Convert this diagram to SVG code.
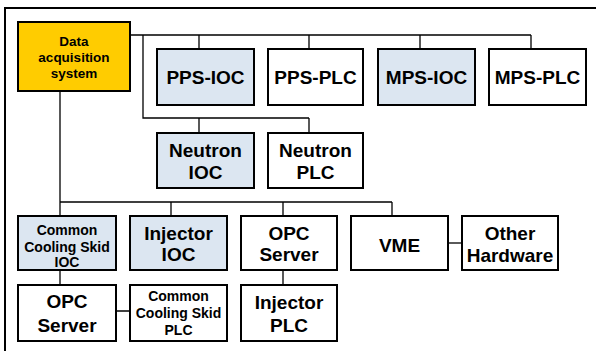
<svg xmlns="http://www.w3.org/2000/svg" width="596" height="351" viewBox="0 0 596 351">
<style>
.box{stroke:#000;stroke-width:2;fill:#fff}
.blue{fill:#DCE6F1}
.yel{fill:#FFCC00}
.c{stroke:#000;stroke-width:1.3;fill:none}
text{font-family:"Liberation Sans",Arial,sans-serif;font-weight:bold;text-anchor:middle;fill:#000}
.big{font-size:19px}
.sm{font-size:13.5px}
.ccs{font-size:14px}
</style>
<rect width="596" height="351" fill="#fff"/>
<path d="M5,351 V8 H596" fill="none" stroke="#000" stroke-width="2"/>
<g id="connectors">
<path class="c" d="M130,35 H531 M199,35 V49 M309,35 V49 M420,35 V49 M531,35 V49"/>
<path class="c" d="M143,35 V118 H309 M199,118 V133 M309,118 V133"/>
<path class="c" d="M60,91 V216 M60,202 H392 M171,202 V216 M283,202 V216 M392,202 V216"/>
<path class="c" d="M448,243 H462"/>
<path class="c" d="M60,270 V285 M116,311 H130 M283,270 V285"/>
</g>
<g id="n-das"><rect class="box yel" x="18" y="22" width="112" height="69"/><text class="sm" x="74" y="46">Data</text><text class="sm" x="74" y="62">acquisition</text><text class="sm" x="74" y="78">system</text></g>
<g id="n-pps-ioc"><rect class="box blue" x="157" y="49" width="97" height="56"/><text class="big" x="205.5" y="84">PPS-IOC</text></g>
<g id="n-pps-plc"><rect class="box" x="268" y="49" width="95" height="56"/><text class="big" x="315.5" y="84">PPS-PLC</text></g>
<g id="n-mps-ioc"><rect class="box blue" x="378" y="49" width="97" height="56"/><text class="big" x="426.5" y="84">MPS-IOC</text></g>
<g id="n-mps-plc"><rect class="box" x="489" y="49" width="97" height="56"/><text class="big" x="537.5" y="84">MPS-PLC</text></g>
<g id="n-neutron-ioc"><rect class="box blue" x="157" y="133" width="97" height="55"/><text class="big" x="205.5" y="157">Neutron</text><text class="big" x="205.5" y="179">IOC</text></g>
<g id="n-neutron-plc"><rect class="box" x="268" y="133" width="95" height="55"/><text class="big" x="315.5" y="157">Neutron</text><text class="big" x="315.5" y="179">PLC</text></g>
<g id="n-ccs-ioc"><rect class="box blue" x="18" y="216" width="98" height="54"/><text class="ccs" x="67" y="235">Common</text><text class="ccs" x="67" y="251.5">Cooling Skid</text><text class="ccs" x="67" y="267">IOC</text></g>
<g id="n-injector-ioc"><rect class="box blue" x="130" y="216" width="97" height="54"/><text class="big" x="178.5" y="240">Injector</text><text class="big" x="178.5" y="261">IOC</text></g>
<g id="n-opc1"><rect class="box" x="241" y="216" width="96" height="54"/><text class="big" x="289" y="240">OPC</text><text class="big" x="289" y="261">Server</text></g>
<g id="n-vme"><rect class="box" x="351" y="216" width="97" height="54"/><text class="big" x="399.5" y="252">VME</text></g>
<g id="n-other"><rect class="box" x="462" y="216" width="96" height="54"/><text class="big" x="510" y="240">Other</text><text class="big" x="510" y="262">Hardware</text></g>
<g id="n-opc2"><rect class="box" x="18" y="285" width="98" height="56"/><text class="big" x="67" y="308">OPC</text><text class="big" x="67" y="331.5">Server</text></g>
<g id="n-ccs-plc"><rect class="box" x="130" y="285" width="97" height="56"/><text class="ccs" x="178.5" y="301">Common</text><text class="ccs" x="178.5" y="318">Cooling Skid</text><text class="ccs" x="178.5" y="335">PLC</text></g>
<g id="n-injector-plc"><rect class="box" x="241" y="285" width="96" height="56"/><text class="big" x="289" y="309">Injector</text><text class="big" x="289" y="331.5">PLC</text></g>
</svg>
